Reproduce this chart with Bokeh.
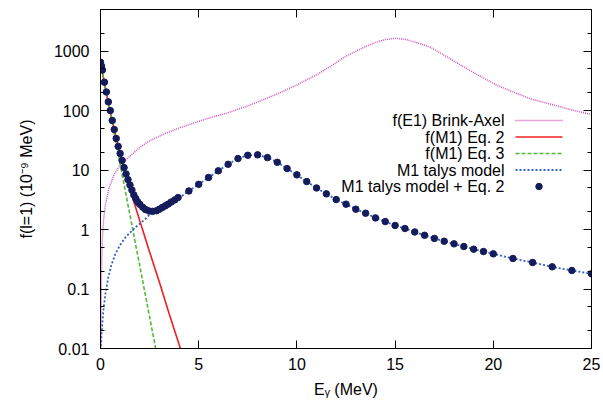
import math
from bokeh.plotting import figure
from bokeh.models import (FixedTicker, LinearAxis, LogAxis, Label, Range1d,
                          CustomJSTickFormatter)
from bokeh.embed import file_html
from bokeh.resources import INLINE

# ---------------- data ----------------
# M1 talys model + Eq. 2 (points)
E_pts = [0.0, 0.05, 0.1, 0.2, 0.3, 0.4, 0.5, 0.6, 0.7, 0.8, 0.9, 1.0, 1.1, 1.2, 1.3,
         1.4, 1.5, 1.6, 1.7, 1.8, 1.9, 2.0, 2.15, 2.3, 2.48, 2.65, 2.85, 3.0, 3.15,
         3.3, 3.45, 3.6, 3.78, 3.95,
         4.5, 5.0, 5.5, 6.0, 6.5, 7.0, 7.5, 8.0, 8.5, 9.0, 9.5, 10.0, 10.5, 11.0,
         11.5, 12.0, 12.5, 13.0, 13.5, 14.0, 14.5, 15.0, 15.5, 16.0, 16.5, 17.0,
         17.5, 18.0, 18.5, 19.0, 19.5, 20.0, 21.0, 22.0, 23.0, 24.0, 25.0]
f_pts = [650, 560, 480, 300, 205, 140, 100, 68, 48, 34, 25, 19, 14.5, 11, 8.6,
         6.9, 5.6, 4.6, 3.8, 3.3, 2.9, 2.65, 2.37, 2.16, 2.05, 2.02, 2.07, 2.2, 2.35,
         2.5, 2.68, 2.9, 3.15, 3.45,
         4.45, 5.75, 7.5, 9.7, 12.5, 15.6, 17.7, 18.0, 16.2, 13.5, 10.6, 8.3, 6.4, 5.0,
         3.98, 3.19, 2.67, 2.2, 1.88, 1.57, 1.36, 1.17, 1.04, 0.91, 0.80, 0.71,
         0.635, 0.574, 0.518, 0.467, 0.427, 0.39, 0.326, 0.279, 0.236, 0.205, 0.18]

# M1 talys model (blue dotted)
E_talys = [0.0, 0.02, 0.05, 0.09, 0.15, 0.25, 0.4, 0.55, 0.76, 1.0, 1.3, 1.78,
           2.2, 2.46, 2.7, 3.0, 3.5, 4.0, 4.5, 5.0, 5.5, 6.0, 6.5, 7.0, 7.5, 8.0,
           8.5, 9.0, 9.5, 10.0, 10.5, 11.0, 11.5, 12.0, 12.5, 13.0, 13.5, 14.0,
           14.5, 15.0, 15.5, 16.0, 16.5, 17.0, 17.5, 18.0, 18.5, 19.0, 19.5, 20.0,
           21.0, 22.0, 23.0, 24.0, 25.0]
f_talys = [0.008, 0.011, 0.017, 0.026, 0.045, 0.083, 0.16, 0.25, 0.39, 0.55, 0.76, 1.09,
           1.42, 1.72, 1.95, 2.1, 2.7, 3.4, 4.45, 5.75, 7.5, 9.7,
           12.5, 15.6, 17.7, 18.0, 16.2, 13.5, 10.6, 8.3, 6.4, 5.0, 3.98, 3.19, 2.67,
           2.2, 1.88, 1.57, 1.36, 1.17, 1.04, 0.91, 0.80, 0.71, 0.635, 0.574, 0.518,
           0.467, 0.427, 0.39, 0.326, 0.279, 0.236, 0.205, 0.18]

# f(M1) Eq. 2 (red solid)
E_eq2 = [0.0, 0.25, 0.5, 0.75, 1.0, 1.25, 1.5, 2.0, 2.5, 3.0, 3.5, 4.1]
f_eq2 = [650, 235, 95, 40, 18.4, 9.0, 4.75, 1.4, 0.42, 0.13, 0.038, 0.0093]

# f(M1) Eq. 3 (green dashed)
E_eq3 = [0.0, 0.5, 1.0, 1.5, 2.0, 2.5, 2.85]
f_eq3 = [650, 90.4, 12.6, 1.75, 0.244, 0.034, 0.0085]

# f(E1) Brink-Axel (magenta dotted)
E_e1 = [0.02, 0.035, 0.06, 0.09, 0.15, 0.25, 0.42, 0.7, 1.0, 1.44, 2.0, 2.5, 3.14,
        4.0, 5.35, 6.5, 7.5, 9.0, 10.0, 11.0, 11.7, 12.5, 13.4, 14.0, 14.5, 15.0,
        15.5, 16.0, 16.8, 17.5, 18.5, 19.3, 20.2, 21.0, 21.9, 23.0, 23.6, 24.3, 25.0]
f_e1 = [0.01, 0.06, 0.3, 0.65, 1.4, 2.6, 4.8, 8.5, 12, 16.5, 24, 31, 39,
        51, 72, 92, 120, 190, 270, 400, 550, 820, 1150, 1400, 1560, 1640,
        1580, 1420, 1160, 850, 540, 383, 265, 206, 157, 126, 111, 97, 86]

legend_labels = ["f(E1) Brink-Axel", "f(M1) Eq. 2", "f(M1) Eq. 3",
                 "M1 talys model", "M1 talys model + Eq. 2"]

x_ticks = [0, 5, 10, 15, 20, 25]
y_ticks = [0.01, 0.1, 1, 10, 100, 1000]
y_minor = [0.02, 0.05, 0.2, 0.5, 2, 5, 20, 50, 200, 500, 2000, 5000]

# ---------------- layout ----------------
W, H = 603, 403
LEFT, RIGHT, TOP, BOTTOM = 100, 12, 9, 55
X0, X1 = 0.0, 25.0
Y0, Y1 = 0.01, 5000.0
FONT = "Liberation Sans"

C_E1 = "#d055b8"
C_EQ2 = "#ee2020"
C_EQ3 = "#55b838"
C_TAL = "#3560c8"
C_PTS = "#141c5c"


def dx(px):
    return X0 + (px - LEFT) / (W - LEFT - RIGHT) * (X1 - X0)


def dy(py):
    l0, l1 = math.log10(Y0), math.log10(Y1)
    return 10 ** (l0 + (H - BOTTOM - py) / (H - BOTTOM - TOP) * (l1 - l0))


p = figure(width=W, height=H, x_range=Range1d(X0, X1), y_range=Range1d(Y0, Y1),
           y_axis_type="log", output_backend="svg", toolbar_location=None,
           min_border_left=LEFT, min_border_right=RIGHT, min_border_top=TOP,
           min_border_bottom=BOTTOM)
p.grid.visible = False
p.outline_line_color = "black"
p.outline_line_width = 1
p.background_fill_color = "white"
p.border_fill_color = "white"

xt = FixedTicker(ticks=x_ticks, minor_ticks=[])
yt = FixedTicker(ticks=y_ticks, minor_ticks=y_minor)


def style_axis(ax, labels=True):
    ax.axis_line_color = "black"
    ax.major_tick_line_color = "black"
    ax.minor_tick_line_color = "black"
    ax.major_tick_in = 8
    ax.major_tick_out = 0
    ax.minor_tick_in = 4
    ax.minor_tick_out = 0
    ax.major_label_text_font = FONT
    if labels:
        ax.major_label_text_font_size = "16px"
        ax.major_label_text_color = "black"
    else:
        ax.major_label_text_font_size = "2px"
        ax.major_label_text_color = None
        ax.major_label_standoff = 0


xa = p.xaxis[0]
xa.ticker = xt
style_axis(xa)
xa.major_label_standoff = 9
xa.axis_label = "E\u1d67 (MeV)"
xa.axis_label_text_font = FONT
xa.axis_label_text_font_size = "16px"
xa.axis_label_text_font_style = "normal"
xa.axis_label_text_color = "black"
xa.axis_label_standoff = 8

ya = p.yaxis[0]
ya.ticker = yt
ya.formatter = CustomJSTickFormatter(code="return tick.toString();")
style_axis(ya)
ya.major_label_standoff = 11
ya.axis_label = "f(l=1) (10\u207b\u2079 MeV)"
ya.axis_label_text_font = FONT
ya.axis_label_text_font_size = "16px"
ya.axis_label_text_font_style = "normal"
ya.axis_label_text_color = "black"
ya.axis_label_standoff = 16

top_ax = LinearAxis(ticker=xt)
style_axis(top_ax, labels=False)
p.add_layout(top_ax, "above")
right_ax = LogAxis(ticker=yt)
style_axis(right_ax, labels=False)
p.add_layout(right_ax, "right")

# ---------------- series ----------------
p.line(E_e1, f_e1, line_color=C_E1, line_width=1.5, line_dash="1 1")
p.line(E_eq2, f_eq2, line_color=C_EQ2, line_width=1.6)
p.line(E_eq3, f_eq3, line_color=C_EQ3, line_width=1.6, line_dash="4 2")
p.line(E_talys, f_talys, line_color=C_TAL, line_width=1.8, line_dash="2 2")
p.scatter(E_pts, f_pts, size=6.5, fill_color=C_PTS, line_color=C_PTS)

# ---------------- legend (gnuplot style: text right, sample left->right) ----------------
rows_py = [120, 136.5, 153, 169.5, 186]
styles = [dict(line_color=C_E1, line_width=1.5, line_dash="1 1"),
          dict(line_color=C_EQ2, line_width=1.6),
          dict(line_color=C_EQ3, line_width=1.6, line_dash="4 2"),
          dict(line_color=C_TAL, line_width=1.8, line_dash="2 2")]
for i, lab in enumerate(legend_labels):
    yy = dy(rows_py[i])
    p.add_layout(Label(x=dx(504), y=yy, text=lab, text_align="right",
                       text_baseline="middle", text_font=FONT,
                       text_font_size="16px", text_color="black"))
    if i < 4:
        p.line([dx(515), dx(562)], [yy, yy], **styles[i])
    else:
        p.scatter([dx(538.5)], [yy], size=6.5, fill_color=C_PTS, line_color=C_PTS)

open("out.html", "w").write(file_html(p, INLINE))
